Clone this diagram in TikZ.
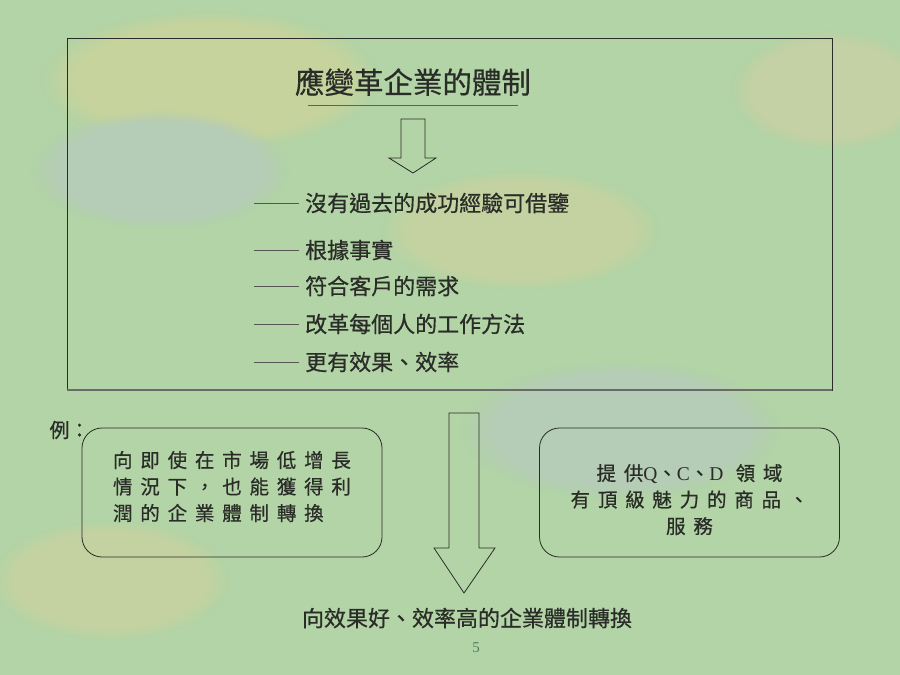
\documentclass[tikz,border=0pt]{standalone}
\usepackage{fontspec}
\setmainfont{Liberation Serif}
\newfontfamily\cjk[FakeBold=0.6]{Noto Sans CJK TC}
\newfontfamily\cjksp[LetterSpace=40,FakeBold=0.6]{Noto Sans CJK TC}
\usetikzlibrary{fadings}
\definecolor{bggreen}{RGB}{178,212,166}
\definecolor{ink}{RGB}{42,44,40}
\newcommand\lat[1]{{\rmfamily #1}}
\tikzset{>=stealth,
  item/.style={anchor=west, inner sep=0pt, text=ink, font=\cjk\fontsize{22}{26}\selectfont},
  egbox/.style={draw=ink, line width=0.8pt, rounded corners=20pt, minimum width=300pt,
    minimum height=129pt},
  egtext/.style={text=ink, inner sep=0pt, font=\cjksp\fontsize{19.5}{26.5}\selectfont},
  hollow/.style={draw=ink, line width=0.8pt},
  patch/.style={path fading=circle with fuzzy edge 20 percent}}

\begin{document}
\begin{tikzpicture}[x=1pt,y=-1pt]
    \useasboundingbox (0,0) rectangle (900,675);
    \clip (0,0) rectangle (900,675);
    \fill[bggreen] (0,0) rectangle (900,675);
    \fill[yellow!15!bggreen, patch] (210,80) ellipse (170 and 70);
    \fill[yellow!12!bggreen, patch] (520,230) ellipse (140 and 60);
    \fill[cyan!5!bggreen, patch] (160,170) ellipse (130 and 60);
    \fill[cyan!5!bggreen, patch] (620,430) ellipse (160 and 70);
    \fill[yellow!12!bggreen, patch] (110,580) ellipse (120 and 60);
    \fill[yellow!10!bggreen, patch] (830,90) ellipse (100 and 60);
    % upper frame
    \draw[ink, line width=0.7pt] (67,38) rectangle (832,390);
    \draw[ink!70, line width=2pt] (67,390) -- (832,390);
    \node[text=ink, font=\cjk\fontsize{29.5}{32}\selectfont] (title) at (413,82) {應變革企業的體制};
    \draw[ink!75, line width=1pt] (308,105) -- (518,105);
    \draw[hollow] (401,119) -- (425,119) -- (425,158) -- (436,158) -- (413,173)
        -- (389,158) -- (401,158) -- cycle;
    \foreach \t/\y [count=\i] in {沒有過去的成功經驗可借鑒/203, 根據事實/250,
        符合客戶的需求/286, 改革每個人的工作方法/324, 更有效果、效率/362}
    {
      \node[item] (i\i) at (305,\y) {\t};
      \draw[ink!80, line width=0.7pt] ([xshift=-51pt]i\i.west) -- ([xshift=-6pt]i\i.west);
    }
    % examples
    \node[anchor=west, text=ink, font=\cjk\fontsize{20}{24}\selectfont] (eg) at (46,430) {例：};
    \node[egbox] (left) at (232,492.5) {};
    \node[egtext, align=left] (lefttext) at ([yshift=6pt]left.center)
        {向即使在市場低增長\\情況下，也能獲得利\\潤的企業體制轉換};
    \node[egbox] (right) at (689.5,492.5) {};
    \node[egtext, align=center] (righttext) at ([yshift=-7pt]right.center)
        {提供\lat{Q}、\lat{C}、\lat{D} 領域\\有頂級魅力的商品、\\服務};
    \draw[hollow] (449,413) -- (479,413) -- (479,548) -- (495,548) -- (464,593)
        -- (434,548) -- (449,548) -- cycle;
    \node[text=ink, font=\cjk\fontsize{22}{26}\selectfont] (goal) at (467,618)
        {向效果好、效率高的企業體制轉換};
    \node[text={rgb,255:red,80;green,125;blue,95}, font=\fontsize{15}{18}\selectfont] (page) at (476,648) {5};
\end{tikzpicture}
\end{document}
